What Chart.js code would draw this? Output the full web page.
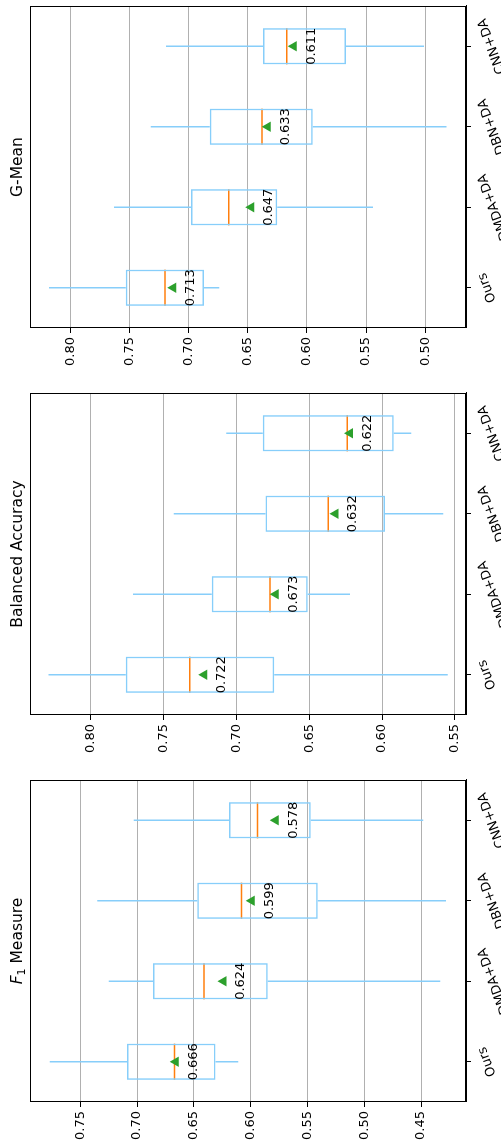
<!doctype html>
<html>
<head>
<meta charset="UTF-8">
<title>Box plots</title>
<script src="https://cdn.jsdelivr.net/npm/chart.js@4"></script>
<style>
html, body { margin: 0; padding: 0; background: #fff; overflow: hidden; }
#fig { position: absolute; left: 0; top: 0; width: 1148px; height: 501px;
       transform-origin: 0 0; transform: translateY(1148px) rotate(-90deg); }
#fig canvas { position: absolute; top: 0; }
</style>
</head>
<body>
<div id="fig">
	<canvas id="c0" width="374" height="501" style="left:0px"></canvas>
	<canvas id="c1" width="374" height="501" style="left:387px"></canvas>
	<canvas id="c2" width="374" height="501" style="left:774px"></canvas>
</div>
<script>
var categories = ["Ours", "DMDA+DA", "DBN+DA", "CNN+DA"];

// F1 measure
var f1Min    = [0.611, 0.433, 0.428, 0.448];
var f1Q1     = [0.631, 0.585, 0.541, 0.547];
var f1Median = [0.667, 0.641, 0.608, 0.594];
var f1Q3     = [0.709, 0.686, 0.647, 0.619];
var f1Max    = [0.777, 0.725, 0.735, 0.703];
var f1Mean   = [0.666, 0.624, 0.599, 0.578];
var f1Ticks  = [0.45, 0.50, 0.55, 0.60, 0.65, 0.70, 0.75];

// balanced accuracy
var baMin    = [0.555, 0.622, 0.558, 0.580];
var baQ1     = [0.674, 0.651, 0.598, 0.592];
var baMedian = [0.732, 0.677, 0.637, 0.624];
var baQ3     = [0.776, 0.717, 0.680, 0.682];
var baMax    = [0.829, 0.771, 0.743, 0.707];
var baMean   = [0.722, 0.673, 0.632, 0.622];
var baTicks  = [0.55, 0.60, 0.65, 0.70, 0.75, 0.80];

// G-mean
var gmMin    = [0.674, 0.544, 0.482, 0.501];
var gmQ1     = [0.687, 0.625, 0.595, 0.567];
var gmMedian = [0.720, 0.666, 0.638, 0.617];
var gmQ3     = [0.753, 0.698, 0.682, 0.637];
var gmMax    = [0.818, 0.763, 0.732, 0.719];
var gmMean   = [0.713, 0.647, 0.633, 0.611];
var gmTicks  = [0.50, 0.55, 0.60, 0.65, 0.70, 0.75, 0.80];

var FONT = "DejaVu Sans";
var BOX = "#87cefa";
var labelAngle = 20 * Math.PI / 180;

function drawTitle(ctx, chart, title) {
	var a = chart.chartArea;
	var cx = (a.left + a.right) / 2, y = a.top - 7.8;
	ctx.fillStyle = "#000";
	ctx.textBaseline = "alphabetic";
	ctx.textAlign = "left";
	var parts;
	if (title == "F1") {
		parts = [["F", "italic 15.5px " + FONT, 0], ["1", "11px " + FONT, 3], [" Measure", "15.5px " + FONT, 0]];
	} else {
		parts = [[title, "15.5px " + FONT, 0]];
	}
	var total = 0;
	parts.forEach(function(p) { ctx.font = p[1]; total += ctx.measureText(p[0]).width; });
	var x = cx - total / 2;
	parts.forEach(function(p) {
		ctx.font = p[1];
		ctx.fillText(p[0], x, y + p[2]);
		x += ctx.measureText(p[0]).width;
	});
}

function makePanel(id, title, mins, q1, med, q3, maxs, means, ticks) {
	var boxPlugin = {
		id: "box" + id,
		beforeDatasetsDraw: function(chart) {
			var ctx = chart.ctx, y = chart.scales.y;
			var bars = chart.getDatasetMeta(1).data;
			ctx.save();
			ctx.lineWidth = 1.5;
			for (var i = 0; i < categories.length; i++) {
				var b = bars[i];
				ctx.strokeStyle = BOX;
				ctx.beginPath();
				ctx.moveTo(b.x, y.getPixelForValue(q3[i]));
				ctx.lineTo(b.x, y.getPixelForValue(maxs[i]));
				ctx.moveTo(b.x, y.getPixelForValue(q1[i]));
				ctx.lineTo(b.x, y.getPixelForValue(mins[i]));
				ctx.stroke();
				ctx.strokeStyle = "#ff7f0e";
				ctx.beginPath();
				ctx.moveTo(b.x - b.width / 2, y.getPixelForValue(med[i]));
				ctx.lineTo(b.x + b.width / 2, y.getPixelForValue(med[i]));
				ctx.stroke();
			}
			ctx.restore();
		},
		afterDraw: function(chart) {
			var ctx = chart.ctx, x = chart.scales.x, y = chart.scales.y, a = chart.chartArea;
			ctx.save();
			ctx.strokeStyle = "#000";
			ctx.lineWidth = 1;
			ctx.strokeRect(a.left + 0.5, a.top + 0.5, a.right - a.left - 1, a.bottom - a.top - 1);
			ctx.fillStyle = "#000";
			ctx.font = "13px " + FONT;
			ctx.textAlign = "center";
			ctx.textBaseline = "top";
			for (var i = 0; i < categories.length; i++) {
				var px = x.getPixelForValue(i);
				ctx.fillText(means[i].toFixed(3), px, y.getPixelForValue(means[i]) + 11);
			}
			// rotated category labels
			ctx.textBaseline = "middle";
			for (var i = 0; i < categories.length; i++) {
				var px = x.getPixelForValue(i);
				var w = ctx.measureText(categories[i]).width, h = 15;
				var H = w * Math.sin(labelAngle) + h * Math.cos(labelAngle);
				ctx.save();
				ctx.translate(px, a.bottom + 9 + H / 2);
				ctx.rotate(-labelAngle);
				ctx.fillText(categories[i], 0, 0);
				ctx.restore();
			}
			drawTitle(ctx, chart, title);
			ctx.restore();
		}
	};

	var boxes = [];
	for (var i = 0; i < categories.length; i++) boxes.push([q1[i], q3[i]]);
	var lo = ticks[0], hi = ticks[ticks.length - 1];
	var range = { "F1": [0.4104, 0.7943], "Balanced Accuracy": [0.5424, 0.8417], "G-Mean": [0.4655, 0.834] }[title];

	new Chart(document.getElementById(id).getContext("2d"), {
		type: "bar",
		data: {
			labels: categories,
			datasets: [
				{
					type: "line",
					data: means,
					showLine: false,
					pointStyle: "triangle",
					pointRadius: 6,
					pointBackgroundColor: "#2ca02c",
					pointBorderWidth: 0,
					order: 1
				},
				{
					type: "bar",
					data: boxes,
					backgroundColor: "rgba(0,0,0,0)",
					borderColor: BOX,
					borderWidth: 1.5,
					borderSkipped: false,
					barPercentage: 0.45,
					categoryPercentage: 1.0,
					order: 2
				}
			]
		},
		options: {
			responsive: false,
			animation: false,
			layout: { padding: { top: 30, right: 5, left: 0, bottom: 0 } },
			plugins: { legend: { display: false }, tooltip: { enabled: false }, title: { display: false } },
			scales: {
				x: {
					type: "category",
					offset: true,
					grid: { offset: false, drawOnChartArea: false, drawTicks: true, tickLength: 5, tickColor: "#000" },
					border: { display: true, color: "#000", width: 1 },
					ticks: { display: false },
					afterFit: function(s) { s.height = 35; }
				},
				y: {
					min: range[0],
					max: range[1],
					afterBuildTicks: function(s) { s.ticks = ticks.map(function(v) { return { value: v }; }); },
					grid: { color: "#b0b0b0", lineWidth: 1, tickLength: 5, tickColor: "#000" },
					border: { display: true, color: "#000", width: 1 },
					ticks: {
						color: "#000",
						padding: 4,
						font: { family: FONT, size: 13 },
						callback: function(v) { return v.toFixed(2); }
					},
					afterFit: function(s) { s.width = 46; }
				}
			}
		},
		plugins: [boxPlugin]
	});
}

makePanel("c0", "F1", f1Min, f1Q1, f1Median, f1Q3, f1Max, f1Mean, f1Ticks);
makePanel("c1", "Balanced Accuracy", baMin, baQ1, baMedian, baQ3, baMax, baMean, baTicks);
makePanel("c2", "G-Mean", gmMin, gmQ1, gmMedian, gmQ3, gmMax, gmMean, gmTicks);
</script>
</body>
</html>
